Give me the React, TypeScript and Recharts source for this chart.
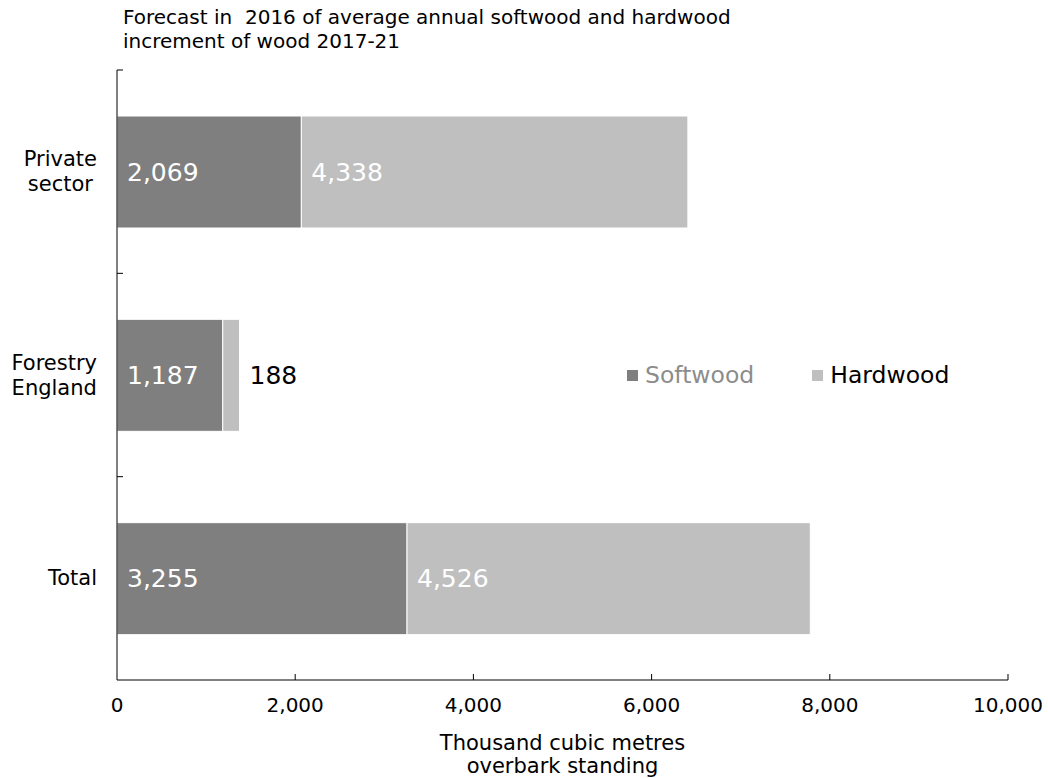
import React from 'react';
import { BarChart, Bar, XAxis, YAxis, LabelList } from 'recharts';

const categories = ['Private sector', 'Forestry England', 'Total'];
const categoryLines = [['Private', 'sector'], ['Forestry', 'England'], ['Total']];
const softwood = [2069, 1187, 3255];
const hardwood = [4338, 188, 4526];
const xTicks = [0, 2000, 4000, 6000, 8000, 10000];
const seriesNames = ['Softwood', 'Hardwood'];
const seriesColors = ['#7f7f7f', '#bfbfbf'];
const titleLines = ['Forecast in  2016 of average annual softwood and hardwood', 'increment of wood 2017-21'];
const axisTitleLines = ['Thousand cubic metres', 'overbark standing'];

const data = categories.map((name, i) => ({ name, softwood: softwood[i], hardwood: hardwood[i] }));

const W = 1048;
const H = 778;
const M = { top: 70, right: 40, bottom: 68, left: 0 };
const XH = 30;
const YW = 117;
const plotH = H - M.top - M.bottom - XH;
const band = plotH / categories.length;

const wide = '"DejaVu Sans", Verdana, sans-serif';

const fmt = (v: number) => v.toLocaleString('en-US');

let ctx: CanvasRenderingContext2D | null = null;
const measure = (t: string, size: number) => {
  if (typeof document === 'undefined') return t.length * size * 0.55;
  if (!ctx) ctx = document.createElement('canvas').getContext('2d');
  if (!ctx) return t.length * size * 0.55;
  ctx.font = `${size}px ${wide}`;
  return ctx.measureText(t).width;
};

const XTick = (props: any) => {
  const { x, y, payload } = props;
  return (
    <g>
      {payload.value !== 0 && <line x1={x} x2={x} y1={y - 6} y2={y} stroke="#000" strokeWidth={1} />}
      <text x={x} y={y + 32} textAnchor="middle" fontFamily={wide} fontSize={20} fill="#000">
        {fmt(payload.value)}
      </text>
    </g>
  );
};

const YTick = (props: any) => {
  const { x, y, payload, index } = props;
  const lines: string[] = categoryLines[index] || [payload.value];
  const fs = 21;
  const lh = 25;
  const maxW = Math.max(...lines.map((l) => measure(l, fs)));
  const cx = 97 - maxW / 2;
  const start = y - ((lines.length - 1) * lh) / 2;
  return (
    <g>
      <line x1={x} x2={x + 6} y1={y - band / 2} y2={y - band / 2} stroke="#000" strokeWidth={1} />
      <text textAnchor="middle" fontFamily={wide} fontSize={fs} fill="#000">
        {lines.map((l: string, i: number) => (
          <tspan key={i} x={cx} y={start + i * lh} dominantBaseline="central">{l}</tspan>
        ))}
      </text>
    </g>
  );
};

const InsideLabel = (props: any) => {
  const { x, y, width, height, value } = props;
  const small = width < 40;
  return (
    <text
      x={small ? x + width + 10 : x + 10}
      y={y + height / 2}
      dominantBaseline="central"
      fontFamily={wide}
      fontSize={25}
      fill={small ? '#000' : '#fff'}
    >
      {fmt(value)}
    </text>
  );
};

export default function App() {
  return (
    <div style={{ position: 'absolute', left: 0, top: 0, width: W, height: H, background: '#fff' }}>
      <div style={{ position: 'absolute', left: 123, top: 5, fontFamily: wide, fontSize: 20, lineHeight: '24px', whiteSpace: 'pre', color: '#000' }}>
        {titleLines.map((t, i) => <div key={i}>{t}</div>)}
      </div>
      <BarChart width={W} height={H} data={data} layout="vertical" margin={M}>
        <XAxis
          type="number"
          domain={[0, 10000]}
          ticks={xTicks}
          height={XH}
          tickLine={false}
          tickSize={0}
          tickMargin={0}
          interval={0}
          axisLine={{ stroke: '#000' }}
          tick={<XTick />}
        />
        <YAxis
          type="category"
          dataKey="name"
          width={YW}
          tickLine={false}
          tickSize={0}
          tickMargin={0}
          interval={0}
          axisLine={{ stroke: '#000' }}
          tick={<YTick />}
        />
        <Bar dataKey="softwood" stackId="a" fill={seriesColors[0]} stroke="#fff" strokeWidth={1} barSize={112} isAnimationActive={false}>
          <LabelList dataKey="softwood" content={<InsideLabel />} />
        </Bar>
        <Bar dataKey="hardwood" stackId="a" fill={seriesColors[1]} stroke="#fff" strokeWidth={1} barSize={112} isAnimationActive={false}>
          <LabelList dataKey="hardwood" content={<InsideLabel />} />
        </Bar>
      </BarChart>
      <div style={{ position: 'absolute', left: 0, top: 732, width: 1125, textAlign: 'center', fontFamily: wide, fontSize: 21, lineHeight: '23px', color: '#000' }}>
        {axisTitleLines.map((t, i) => <div key={i}>{t}</div>)}
      </div>
      <div style={{ position: 'absolute', left: 627, top: 361, display: 'flex', fontFamily: wide, fontSize: 23.5, lineHeight: '28px' }}>
        {seriesNames.map((n, i) => (
          <div key={n} style={{ display: 'flex', alignItems: 'center', marginRight: i === 0 ? 58 : 0 }}>
            <span style={{ display: 'inline-block', width: 11, height: 11, background: seriesColors[i], marginRight: 7 }} />
            <span style={{ color: i === 0 ? '#8c8c8c' : '#000' }}>{n}</span>
          </div>
        ))}
      </div>
    </div>
  );
}
